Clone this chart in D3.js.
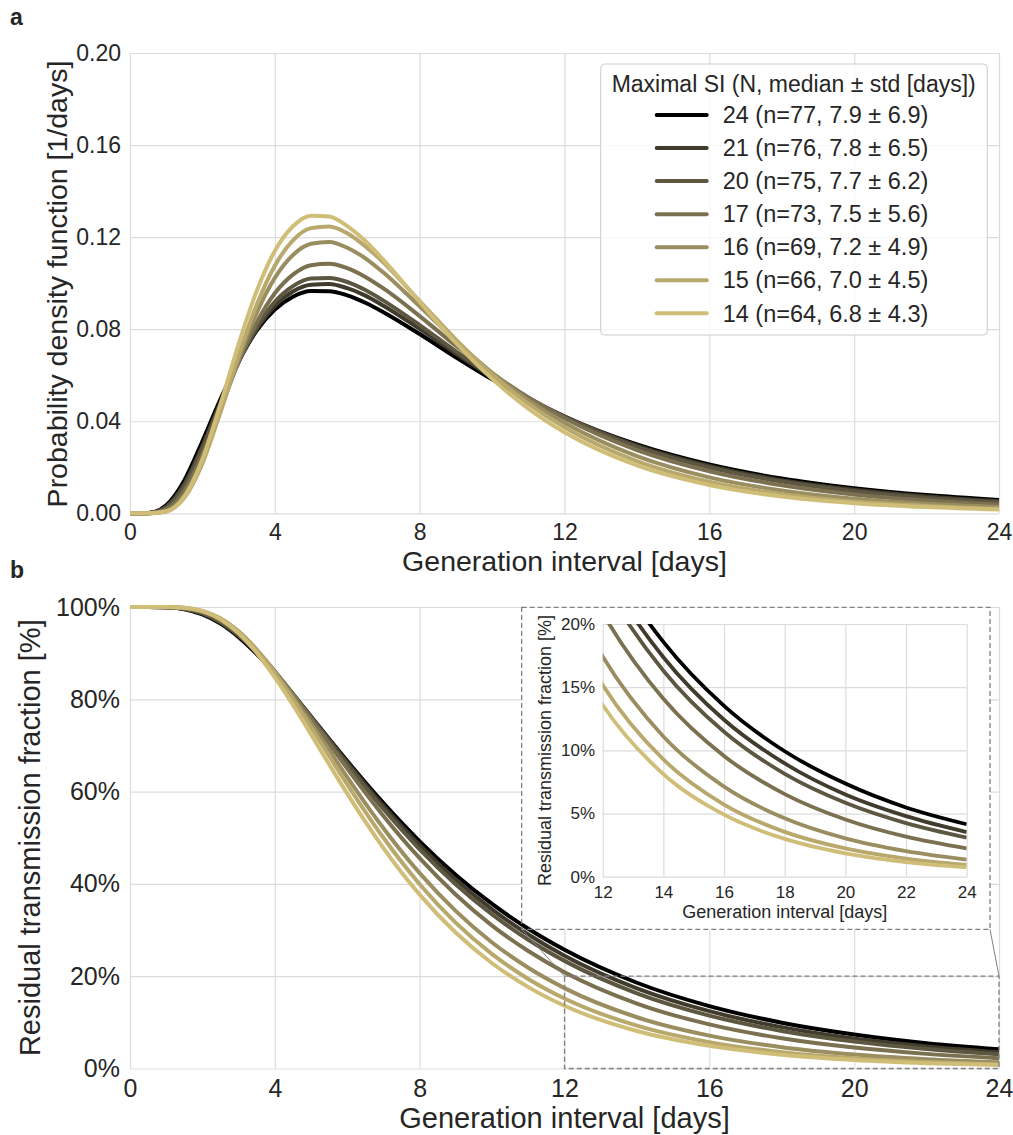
<!DOCTYPE html>
<html>
<head>
<meta charset="utf-8">
<script src="https://cdn.jsdelivr.net/npm/d3@7"></script>
<style>
  html, body { margin: 0; padding: 0; background: #ffffff; }
  svg { display: block; }
  text { font-family: "Liberation Sans", Arial, Helvetica, sans-serif; fill: #262626; }
</style>
</head>
<body>
<svg id="chart" width="1013" height="1135"></svg>
<script>
// ---------------- DATA ----------------
const genInterval = [0, 0.5, 1, 1.5, 2, 2.5, 3, 3.5, 4, 4.5, 5, 5.5, 6, 6.5, 7, 8, 9, 10, 11, 12, 14, 16, 18, 20, 22, 24];

const maximalSI = [24, 21, 20, 17, 16, 15, 14];
const legendLabels = [
  "24 (n=77, 7.9 \u00b1 6.9)",
  "21 (n=76, 7.8 \u00b1 6.5)",
  "20 (n=75, 7.7 \u00b1 6.2)",
  "17 (n=73, 7.5 \u00b1 5.6)",
  "16 (n=69, 7.2 \u00b1 4.9)",
  "15 (n=66, 7.0 \u00b1 4.5)",
  "14 (n=64, 6.8 \u00b1 4.3)"
];
const seriesColors = ["#000000", "#403b2c", "#5d5641", "#7b7150", "#9a8d60", "#b8a86c", "#d0be78"];

// probability density function [1/days]
const pdf24 = [0, 0.0001, 0.0035, 0.0143, 0.0313, 0.0496, 0.0662, 0.0794, 0.0885, 0.0941, 0.0966, 0.0965, 0.0947, 0.0915, 0.0874, 0.0779, 0.0678, 0.0582, 0.0496, 0.0419, 0.0299, 0.0212, 0.0151, 0.0109, 0.0079, 0.0058];
const pdf21 = [0, 0.0000, 0.0029, 0.0128, 0.0293, 0.0482, 0.0657, 0.0799, 0.0901, 0.0964, 0.0993, 0.0996, 0.0978, 0.0946, 0.0902, 0.0801, 0.0694, 0.0592, 0.0500, 0.0421, 0.0294, 0.0206, 0.0144, 0.0102, 0.0073, 0.0052];
const pdf20 = [0, 0.0000, 0.0024, 0.0118, 0.0282, 0.0476, 0.0659, 0.0809, 0.0919, 0.0987, 0.1020, 0.1022, 0.1005, 0.0970, 0.0924, 0.0818, 0.0704, 0.0598, 0.0502, 0.0419, 0.0289, 0.0199, 0.0138, 0.0096, 0.0067, 0.0048];
const pdf17 = [0, 0.0000, 0.0017, 0.0097, 0.0255, 0.0456, 0.0658, 0.0829, 0.0956, 0.1037, 0.1078, 0.1084, 0.1065, 0.1027, 0.0977, 0.0857, 0.0728, 0.0609, 0.0503, 0.0413, 0.0275, 0.0183, 0.0122, 0.0082, 0.0056, 0.0038];
const pdf16 = [0, 0.0000, 0.0010, 0.0077, 0.0231, 0.0445, 0.0670, 0.0871, 0.1023, 0.1122, 0.1171, 0.1179, 0.1154, 0.1108, 0.1046, 0.0899, 0.0749, 0.0611, 0.0492, 0.0393, 0.0248, 0.0156, 0.0099, 0.0063, 0.0041, 0.0027];
const pdf15 = [0, 0.0000, 0.0008, 0.0067, 0.0217, 0.0441, 0.0685, 0.0906, 0.1076, 0.1186, 0.1239, 0.1246, 0.1217, 0.1160, 0.1090, 0.0922, 0.0755, 0.0604, 0.0477, 0.0374, 0.0227, 0.0137, 0.0083, 0.0051, 0.0032, 0.0020];
const pdf14 = [0, 0.0000, 0.0008, 0.0072, 0.0235, 0.0475, 0.0735, 0.0966, 0.1140, 0.1247, 0.1293, 0.1290, 0.1248, 0.1183, 0.1101, 0.0918, 0.0740, 0.0584, 0.0455, 0.0352, 0.0208, 0.0123, 0.0073, 0.0044, 0.0027, 0.0016];

// residual transmission fraction (share of transmission still to come)
const surv24 = [1, 1, 0.9994, 0.9953, 0.9840, 0.9639, 0.9347, 0.8981, 0.8559, 0.8101, 0.7624, 0.7140, 0.6662, 0.6197, 0.5750, 0.4922, 0.4193, 0.3565, 0.3027, 0.2572, 0.1858, 0.1352, 0.0993, 0.0737, 0.0548, 0.0415];
const surv21 = [1, 1, 0.9995, 0.9959, 0.9857, 0.9663, 0.9376, 0.9012, 0.8584, 0.8116, 0.7626, 0.7127, 0.6633, 0.6153, 0.5690, 0.4838, 0.4090, 0.3447, 0.2904, 0.2443, 0.1737, 0.1242, 0.0896, 0.0650, 0.0479, 0.0353];
const surv20 = [1, 1, 0.9996, 0.9964, 0.9866, 0.9676, 0.9391, 0.9025, 0.8589, 0.8111, 0.7610, 0.7097, 0.6590, 0.6096, 0.5622, 0.4750, 0.3989, 0.3339, 0.2790, 0.2332, 0.1630, 0.1147, 0.0814, 0.0585, 0.0424, 0.0309];
const surv17 = [1, 1, 0.9997, 0.9972, 0.9887, 0.9711, 0.9430, 0.9057, 0.8609, 0.8109, 0.7580, 0.7037, 0.6498, 0.5975, 0.5473, 0.4557, 0.3766, 0.3097, 0.2545, 0.2087, 0.1408, 0.0955, 0.0654, 0.0453, 0.0317, 0.0224];
const surv16 = [1, 1, 0.9999, 0.9980, 0.9907, 0.9739, 0.9461, 0.9073, 0.8598, 0.8058, 0.7484, 0.6897, 0.6311, 0.5746, 0.5207, 0.4233, 0.3410, 0.2731, 0.2183, 0.1742, 0.1110, 0.0713, 0.0462, 0.0303, 0.0202, 0.0135];
const surv15 = [1, 1, 0.9999, 0.9984, 0.9917, 0.9754, 0.9472, 0.9072, 0.8574, 0.8005, 0.7397, 0.6775, 0.6158, 0.5563, 0.5000, 0.3994, 0.3155, 0.2478, 0.1941, 0.1517, 0.0928, 0.0571, 0.0355, 0.0224, 0.0143, 0.0093];
const surv14 = [1, 1, 0.9999, 0.9982, 0.9910, 0.9734, 0.9432, 0.9005, 0.8474, 0.7877, 0.7240, 0.6592, 0.5956, 0.5348, 0.4776, 0.3767, 0.2940, 0.2281, 0.1763, 0.1359, 0.0812, 0.0491, 0.0299, 0.0185, 0.0116, 0.0074];

const xTicksMain = [0, 4, 8, 12, 16, 20, 24];
const yTicksPdf = [0, 0.04, 0.08, 0.12, 0.16, 0.20];
const yTicksSurv = [0, 0.2, 0.4, 0.6, 0.8, 1.0];
const xTicksInset = [12, 14, 16, 18, 20, 22, 24];
const yTicksInset = [0, 0.05, 0.10, 0.15, 0.20];

// ---------------- BUILD ----------------
const pdfs = [pdf24, pdf21, pdf20, pdf17, pdf16, pdf15, pdf14];
const survs = [surv24, surv21, surv20, surv17, surv16, surv15, surv14];
const series = maximalSI.map((m, i) => ({
  key: m,
  label: legendLabels[i],
  color: seriesColors[i],
  pdf: genInterval.map((g, j) => [g, pdfs[i][j]]),
  surv: genInterval.map((g, j) => [g, survs[i][j]])
}));

const svg = d3.select("#chart");
const GRID = "#dcdcdc";
const LW = 4;

// scales
const xA = d3.scaleLinear().domain([0, 24]).range([130, 999]);
const yA = d3.scaleLinear().domain([0, 0.2]).range([513.3, 53]);
const xB = d3.scaleLinear().domain([0, 24]).range([130, 999]);
const yB = d3.scaleLinear().domain([0, 1]).range([1068.5, 607]);
const xI = d3.scaleLinear().domain([12, 24]).range([602.7, 966.7]);
const yI = d3.scaleLinear().domain([0, 0.2]).range([876.7, 624]);

function grid(g, x, y, xt, yt) {
  const [x0, x1] = x.range();
  const [y0, y1] = y.range();
  g.append("g").attr("transform", `translate(0,${y0})`)
    .call(d3.axisBottom(x).tickValues(xt).tickSize(-(y0 - y1)).tickFormat(""))
    .call(s => s.select(".domain").remove())
    .call(s => s.selectAll("line").attr("stroke", GRID).attr("stroke-width", 1.2));
  g.append("g").attr("transform", `translate(${x0},0)`)
    .call(d3.axisLeft(y).tickValues(yt).tickSize(-(x1 - x0)).tickFormat(""))
    .call(s => s.select(".domain").remove())
    .call(s => s.selectAll("line").attr("stroke", GRID).attr("stroke-width", 1.2));
}

function tickLabels(g, x, y, xt, yt, xfmt, yfmt, fs, padX, padY) {
  const [y0] = y.range();
  const [x0] = x.range();
  g.append("g").attr("transform", `translate(0,${y0})`)
    .call(d3.axisBottom(x).tickValues(xt).tickSize(0).tickPadding(padX).tickFormat(xfmt))
    .call(s => s.select(".domain").remove())
    .call(s => s.selectAll("text").attr("font-size", fs).attr("fill", "#262626")
      .style("font-family", '"Liberation Sans", Arial, sans-serif'));
  g.append("g").attr("transform", `translate(${x0},0)`)
    .call(d3.axisLeft(y).tickValues(yt).tickSize(0).tickPadding(padY).tickFormat(yfmt))
    .call(s => s.select(".domain").remove())
    .call(s => s.selectAll("text").attr("font-size", fs).attr("fill", "#262626")
      .style("font-family", '"Liberation Sans", Arial, sans-serif'));
}

// ---------- Panel a ----------
const gA = svg.append("g");
grid(gA, xA, yA, xTicksMain, yTicksPdf);
const lineA = d3.line().x(d => xA(d[0])).y(d => yA(d[1])).curve(d3.curveMonotoneX);
gA.append("g").selectAll("path").data(series).join("path")
  .attr("d", d => lineA(d.pdf))
  .attr("fill", "none").attr("stroke", d => d.color).attr("stroke-width", LW)
  .attr("stroke-linejoin", "round").attr("stroke-linecap", "butt");
tickLabels(gA, xA, yA, xTicksMain, yTicksPdf, d3.format("d"), d3.format(".2f"), 23, 10.5, 9);

gA.append("text").attr("x", 564.5).attr("y", 571).attr("text-anchor", "middle")
  .attr("font-size", 28.5).text("Generation interval [days]");
gA.append("text").attr("transform", "translate(67,284) rotate(-90)").attr("text-anchor", "middle")
  .attr("font-size", 28.5).text("Probability density function [1/days]");
svg.append("text").attr("x", 10).attr("y", 25).attr("font-size", 23).attr("font-weight", "bold").text("a");

// legend
const leg = gA.append("g");
leg.append("rect").attr("x", 600.7).attr("y", 64).attr("width", 386.6).attr("height", 271)
  .attr("rx", 4).attr("fill", "#ffffff").attr("fill-opacity", 0.8)
  .attr("stroke", "#cccccc").attr("stroke-width", 1);
leg.append("text").attr("x", 793.7).attr("y", 91.5).attr("text-anchor", "middle")
  .attr("font-size", 23).text("Maximal SI (N, median \u00b1 std [days])");
const legRow = d3.scaleLinear().domain([0, 6]).range([115, 313.3]);
const items = leg.selectAll("g.item").data(series).join("g").attr("class", "item")
  .attr("transform", (d, i) => `translate(0,${legRow(i)})`);
items.append("line").attr("x1", 656.7).attr("x2", 706.7).attr("y1", 0).attr("y2", 0)
  .attr("stroke", d => d.color).attr("stroke-width", LW).attr("stroke-linecap", "round");
items.append("text").attr("x", 722.7).attr("y", 8.2).attr("font-size", 23.5).text(d => d.label);

// ---------- Panel b ----------
const gB = svg.append("g");
grid(gB, xB, yB, xTicksMain, yTicksSurv);

// inset frame (white) hides the main grid
const box = { x0: 521.7, x1: 990, y0: 607.3, y1: 929.3 };
gB.append("rect").attr("x", box.x0).attr("y", box.y0)
  .attr("width", box.x1 - box.x0).attr("height", box.y1 - box.y0)
  .attr("fill", "#ffffff");

const lineB = d3.line().x(d => xB(d[0])).y(d => yB(d[1])).curve(d3.curveMonotoneX);
gB.append("g").selectAll("path").data(series).join("path")
  .attr("d", d => lineB(d.surv))
  .attr("fill", "none").attr("stroke", d => d.color).attr("stroke-width", LW)
  .attr("stroke-linejoin", "round");
tickLabels(gB, xB, yB, xTicksMain, yTicksSurv, d3.format("d"), d3.format(".0%"), 25, 10.3, 10);

gB.append("text").attr("x", 564.5).attr("y", 1128).attr("text-anchor", "middle")
  .attr("font-size", 29).text("Generation interval [days]");
gB.append("text").attr("transform", "translate(40,837.7) rotate(-90)").attr("text-anchor", "middle")
  .attr("font-size", 29).text("Residual transmission fraction [%]");
svg.append("text").attr("x", 10).attr("y", 578).attr("font-size", 23).attr("font-weight", "bold").text("b");

// zoom rectangle + connectors + inset frame outline
const DASH = "#808080";
gB.append("rect").attr("x", xB(12)).attr("y", yB(0.2))
  .attr("width", xB(24) - xB(12)).attr("height", yB(0) - yB(0.2))
  .attr("fill", "none").attr("stroke", DASH).attr("stroke-width", 1.3).attr("stroke-dasharray", "5,3");
gB.append("rect").attr("x", box.x0).attr("y", box.y0)
  .attr("width", box.x1 - box.x0).attr("height", box.y1 - box.y0)
  .attr("fill", "none").attr("stroke", DASH).attr("stroke-width", 1.3).attr("stroke-dasharray", "5,3");
gB.append("line").attr("x1", box.x0).attr("y1", box.y1).attr("x2", xB(12)).attr("y2", yB(0.2))
  .attr("stroke", DASH).attr("stroke-width", 1);
gB.append("line").attr("x1", box.x1).attr("y1", box.y1).attr("x2", xB(24)).attr("y2", yB(0.2))
  .attr("stroke", DASH).attr("stroke-width", 1);

// ---------- Inset ----------
const gI = svg.append("g");
gI.append("rect").attr("x", xI(12)).attr("y", yI(0.2)).attr("width", xI(24) - xI(12))
  .attr("height", yI(0) - yI(0.2)).attr("fill", "#ffffff");
grid(gI, xI, yI, xTicksInset, yTicksInset);
svg.append("clipPath").attr("id", "insetClip").append("rect")
  .attr("x", xI(12)).attr("y", yI(0.2)).attr("width", xI(24) - xI(12)).attr("height", yI(0) - yI(0.2));
const lineI = d3.line().x(d => xI(d[0])).y(d => yI(d[1])).curve(d3.curveMonotoneX);
gI.append("g").attr("clip-path", "url(#insetClip)")
  .selectAll("path").data(series).join("path")
  .attr("d", d => lineI(d.surv.filter(p => p[0] >= 10)))
  .attr("fill", "none").attr("stroke", d => d.color).attr("stroke-width", 3.8)
  .attr("stroke-linejoin", "round");
tickLabels(gI, xI, yI, xTicksInset, yTicksInset, d3.format("d"), d3.format(".0%"), 17, 9.5, 7.7);
gI.append("text").attr("x", 784.7).attr("y", 918).attr("text-anchor", "middle")
  .attr("font-size", 18).text("Generation interval [days]");
gI.append("text").attr("transform", "translate(551,750.5) rotate(-90)").attr("text-anchor", "middle")
  .attr("font-size", 18).text("Residual transmission fraction [%]");
</script>
</body>
</html>
